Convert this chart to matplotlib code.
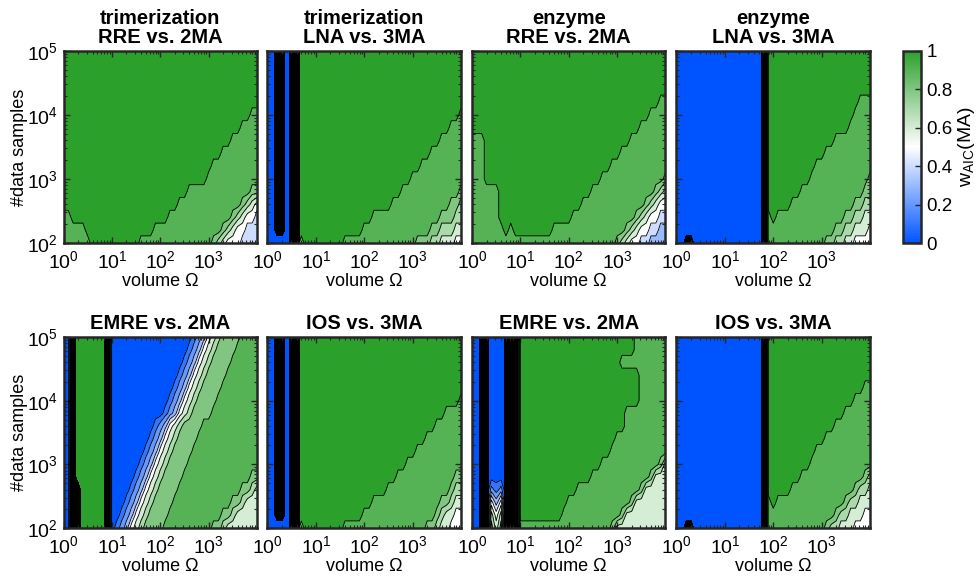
import numpy as np
import matplotlib
matplotlib.use('Agg')
import matplotlib.pyplot as plt
import matplotlib.cm as cm
from matplotlib.colors import LinearSegmentedColormap, Normalize
from matplotlib.ticker import LogLocator, NullFormatter

plt.rcParams['font.family'] = ['Liberation Sans', 'DejaVu Sans']
plt.rcParams['mathtext.fontset'] = 'custom'
plt.rcParams['mathtext.rm'] = 'Liberation Sans'
plt.rcParams['mathtext.it'] = 'Liberation Sans:italic'
plt.rcParams['mathtext.bf'] = 'Liberation Sans:bold'

# grid of the scan (log10 of volume and of number of samples)
volume_log10 = [0.0, 0.1, 0.2, 0.3, 0.4, 0.5, 0.6, 0.7, 0.8, 0.9,
                1.0, 1.1, 1.2, 1.3, 1.4, 1.5, 1.6, 1.7, 1.8, 1.9,
                2.0, 2.1, 2.2, 2.3, 2.4, 2.5, 2.6, 2.7, 2.8, 2.9,
                3.0, 3.1, 3.2, 3.3, 3.4, 3.5, 3.6, 3.7, 3.8, 3.9, 4.0]
samples_log10 = [5.0, 4.8, 4.6, 4.4, 4.2, 4.0, 3.8, 3.6,
                 3.4, 3.2, 3.0, 2.8, 2.6, 2.4, 2.2, 2.0]

# w_AIC(MA), one string per row (top row first), run-length coded
# '0'..'9' -> 0.05..0.95, 'G' -> 1, '#'/'$' -> band of packed contour lines (value 0 / 1)
trim_rre_2ma = [
    "G*41", "G*41", "G*41", "G*41", "G*41",
    "G*39 9*2",
    "G*37 9*4",
    "G*35 9*6",
    "G*33 9*8",
    "G*31 9*10",
    "G*30 9*11",
    "G*26 9*13 8*2",
    "G*24 9*13 8 7 6 5",
    "9*2 G*20 9*13 8 7 6 5*2 4",
    "9*5 G*14 9*14 8 7 6 5*2 4*3",
    "9*6 G*10 9*15 8 7 6 5*3 4*4",
]
trim_lna_3ma = [
    "0*2 #*2 0 # $ G*34", "0*2 #*2 0 # $ G*34", "0*2 #*2 0 # $ G*34",
    "0*2 #*2 0 # $ G*34", "0*2 #*2 0 # $ G*34",
    "0*2 #*2 0 # $ G*33 9",
    "0*2 #*2 0 # $ G*31 9*3",
    "0*2 #*2 0 # $ G*29 9*5",
    "0*2 #*2 0 # $ G*27 9*7",
    "0*2 #*2 0 # $ G*25 9*9",
    "0*2 #*2 0 # $ G*23 9*11",
    "0*2 #*2 0 # $ G*21 9*12 8",
    "0*2 #*2 0 # $ G*19 9*12 8*2 7",
    "0*2 #*2 0 # $ G*15 9*14 8*3 7*2",
    "0*2 #*2 0 # $ G*13 9*14 8*2 7*3 6*2",
    "0*5 # $ 9 G*8 9*15 8*3 7*2 6*3 5*2",
]
enz_rre_2ma = [
    "G*41", "G*41", "G*41", "G*41",
    "G*39 9*2",
    "G*37 9*4",
    "G*35 9*6",
    "9*3 G*30 9*8",
    "9*3 G*28 9*10",
    "9*3 G*26 9*12",
    "9*3 G*24 9*13 8",
    "9*6 G*19 9*13 8 7 6",
    "9*6 G*17 9*13 8 7 6 5*2",
    "9*6 G*15 9*13 8 7 6 5*2 4*2",
    "9*7 G 9 G*8 9*15 8 7 6 5*2 4*2 3*2",
    "9*30 8 7 6 5*2 4*2 3*4",
]
enz_lna_3ma = [
    "0*18 # G*22", "0*18 # G*22", "0*18 # G*22", "0*18 # G*22",
    "0*18 # G*19 9*3",
    "0*18 # G*18 9*4",
    "0*18 # G*17 9*5",
    "0*18 # G*14 9*8",
    "0*18 # G*12 9*10",
    "0*18 # G*10 9*12",
    "0*18 # G*9 9*12 8",
    "0*18 # G*7 9*13 8*2",
    "0*18 # G*5 9*13 8*2 7*2",
    "0*18 # 9 G 9*14 8*2 7*2 6*2",
    "0*18 # 9*14 8*2 7*2 6*3 5",
    "0*2 #*2 0*14 # 9*12 8*2 7*2 6*2 5*4",
]
trim_emre_2ma = [
    "0*2 $ G*6 $ 0*17 1 2 3 5 6 7 8*4 9*4",
    "0*2 $ G*6 $ 0*16 1 2 3 5 6 7 8*4 9*5",
    "0*2 $ G*6 $ 0*15 1 2 3 5 6 7 8*4 9*6",
    "0*2 $ G*6 $ 0*14 1 2 3 5 6 7 8*4 9*7",
    "0*2 $ G*6 $ 0*13 1 2 3 5 6 7 8*4 9*8",
    "0*2 $ G*6 $ 0*12 1 2 3 5 6 7 8*4 9*9",
    "0*2 $ G*6 $ 0*11 1 2 3 5 6 7 8*4 9*10",
    "0*2 $ G*6 $ 0*9 1 2 3 5 6 7 8*4 9*12",
    "0*2 $ G*6 $ 0*8 1 2 3 5 6 7 8*4 9*13",
    "0*2 $ G*6 $ 0*7 1 2 3 5 6 7 8*4 9*14",
    "0*2 $ G*6 $ 0*6 1 2 3 5 6 7 8*4 9*15",
    "0*2 $ G*6 $ 0*5 1 2 3 5 6 7 8*4 9*14 8*2",
    "0*2 $*2 G*5 $ 0*4 1 2 3 5 6 7 8*4 9*13 8*2 7 6",
    "0*2 $*2 G*5 $ 0*3 1 2 3 5 6 7 8*4 9*12 8*2 7 6*3",
    "0*2 $*2 G*5 $ 0*2 1 2 3 5 6 7 8*4 9*11 8*2 7 6*5",
    "0*2 $*2 G*5 $ 0 1 2 3 5 6 7 8*4 9*10 8*2 7 6*7",
]
trim_ios_3ma = [
    "0*2 #*2 0 # $ G*34", "0*2 #*2 0 # $ G*34", "0*2 #*2 0 # $ G*34",
    "0*2 #*2 0 # $ G*34", "0*2 #*2 0 # $ G*34",
    "0*2 #*2 0 # $ G*33 9",
    "0*2 #*2 0 # $ G*30 9*4",
    "0*2 #*2 0 # $ G*28 9*6",
    "0*2 #*2 0 # $ G*26 9*8",
    "0*2 #*2 0 # $ G*24 9*10",
    "0*2 #*2 0 # $ G*22 9*12",
    "0*2 #*2 0 # $ G*20 9*12 8*2",
    "0*2 #*2 0 # $ G*18 9*13 8 7*2",
    "0*2 #*2 0 # $ G*15 9*14 8*2 7 6*2",
    "0*2 #*2 0 # $ G*13 9*15 8 7 6*2 5*2",
    "0*5 # $ 9 G*8 9*17 8*2 7 6*2 5*3",
]
enz_emre_2ma = [
    "0*2 #*2 0*3 #*3 G*24 9*7",
    "0*2 #*2 0*3 #*3 G*24 9*7",
    "0*2 #*2 0*3 #*3 G*21 9*10",
    "0*2 #*2 0*3 #*3 G*25 9*6",
    "0*2 #*2 0*3 #*3 G*25 9*6",
    "0*2 #*2 0*3 #*3 G*25 9*6",
    "0*2 #*2 0*3 #*3 G*22 9*9",
    "0*2 #*2 0*3 #*3 G*22 9*9",
    "0*2 #*2 0*3 #*3 G*20 9*11",
    "0*2 #*2 0*3 #*3 G*19 9*12",
    "0*2 #*2 0*3 #*3 G*17 9*12 8 6",
    "0*2 #*2 0*3 #*3 G*15 9*12 8 6*3",
    "0*2 #*2 2 1 2 #*3 G*12 9*13 8 6*5",
    "0*2 #*2 5 3 5 #*3 G*10 9*13 8 6*7",
    "0*2 #*2 7 5 7 #*3 G*9 9*12 8 6*9",
    "0*2 #*2 8 6 8 #*3 9*19 8 6*11",
]
enz_ios_3ma = [
    "0*18 # G*22", "0*18 # G*22", "0*18 # G*22", "0*18 # G*22",
    "0*18 # G*20 9*2",
    "0*18 # G*18 9*4",
    "0*18 # G*16 9*6",
    "0*18 # G*14 9*8",
    "0*18 # G*12 9*10",
    "0*18 # G*10 9*12",
    "0*18 # G*9 9*13",
    "0*18 # G*7 9*13 8 7",
    "0*18 # G*5 9*13 8 7*2 6",
    "0*18 # 9 G 9*14 8 7*2 6*3",
    "0*18 # 9*14 8 7*2 6*3 5*2",
    "0*2 #*2 0*14 # 9*12 8 7*2 6*3 5*4",
]

titles = ['trimerization\nRRE vs. 2MA', 'trimerization\nLNA vs. 3MA',
          'enzyme\nRRE vs. 2MA', 'enzyme\nLNA vs. 3MA',
          'EMRE vs. 2MA', 'IOS vs. 3MA', 'EMRE vs. 2MA', 'IOS vs. 3MA']
panels = [trim_rre_2ma, trim_lna_3ma, enz_rre_2ma, enz_lna_3ma,
          trim_emre_2ma, trim_ios_3ma, enz_emre_2ma, enz_ios_3ma]

code = {str(i): 0.05 + 0.1 * i for i in range(10)}
code.update({'G': 1.0, '#': 0.0, '$': 1.0})


def decode(rows):
    vals, band = [], []
    for r in rows:
        line = []
        for tok in r.split():
            c, _, n = tok.partition('*')
            line += [c] * int(n or 1)
        assert len(line) == len(volume_log10), r
        vals.append([code[c] for c in line])
        band.append([1.0 if c in '#$' else 0.0 for c in line])
    return np.array(vals), np.array(band)


blue, green = (0.0, 0.33, 1.0), (0.17, 0.63, 0.17)
cmap = LinearSegmentedColormap.from_list('bwg', [(0, blue), (0.5, 'white'), (1, green)])
fill_levels = [-0.01, 0.1, 0.2, 0.3, 0.4, 0.5, 0.6, 0.7, 0.8, 0.9, 0.975, 1.01]
fill_colors = [cmap(v) for v in [0, 0.1, 0.2, 0.3, 0.4, 0.5, 0.6, 0.7, 0.8, 0.9, 1.0]]
line_levels = [0.1, 0.2, 0.3, 0.4, 0.5, 0.6, 0.7, 0.8, 0.9, 0.975]

X = 10 ** np.array(volume_log10)
Y = 10 ** np.array(samples_log10)

W, H = 978, 581
fig = plt.figure(figsize=(W / 100, H / 100), dpi=100)
lefts = [63.5, 267.5, 472, 676.5]
rows_px = [(51, 243), (337, 528)]
frame = '#262626'

for k, (rows, title) in enumerate(zip(panels, titles)):
    top, bot = rows_px[k // 4]
    left = lefts[k % 4]
    ax = fig.add_axes([left / W, (H - bot) / H, 193.5 / W, (bot - top) / H])
    Z, M = decode(rows)
    ax.contourf(X, Y, Z, levels=fill_levels, colors=fill_colors)
    ax.contour(X, Y, Z, levels=line_levels, colors='k', linewidths=0.6)
    ax.contourf(X, Y, M, levels=[0.5, 1.5], colors='k')
    ax.set_xscale('log')
    ax.set_yscale('log')
    ax.set_xlim(1, 1e4)
    ax.set_ylim(1e2, 1e5)
    ax.set_xticks([1, 10, 100, 1000])
    ax.set_xticklabels(['$10^{0}$', '$10^{1}$', '$10^{2}$', '$10^{3}$'])
    ax.set_yticks([1e2, 1e3, 1e4, 1e5])
    if k % 4 == 0:
        ax.set_yticklabels(['$10^{2}$', '$10^{3}$', '$10^{4}$', '$10^{5}$'])
        ax.set_ylabel('#data samples', fontsize=13, labelpad=-1)
    else:
        ax.set_yticklabels([])
    ax.xaxis.set_minor_locator(LogLocator(base=10, subs=np.arange(2, 10), numticks=20))
    ax.yaxis.set_minor_locator(LogLocator(base=10, subs=np.arange(2, 10), numticks=20))
    ax.xaxis.set_minor_formatter(NullFormatter())
    ax.yaxis.set_minor_formatter(NullFormatter())
    ax.tick_params(which='both', direction='in', top=True, right=True,
                   color=frame, labelsize=14)
    ax.tick_params(axis='x', which='major', pad=5)
    ax.tick_params(axis='y', which='major', pad=4)
    ax.tick_params(which='major', length=4, width=1)
    ax.tick_params(which='minor', length=2, width=0.8)
    for s in ax.spines.values():
        s.set_linewidth(1.8)
        s.set_color(frame)
    ax.set_xlabel('volume \u03a9', fontsize=13, labelpad=1)
    ax.set_title(title, fontsize=14.5, fontweight='bold', pad=6, linespacing=1.0)

cax = fig.add_axes([903 / W, (H - 243) / H, 18 / W, 192 / H])
cb = fig.colorbar(cm.ScalarMappable(norm=Normalize(0, 1), cmap=cmap), cax=cax,
                  ticks=[0, 0.2, 0.4, 0.6, 0.8, 1])
cb.ax.set_yticklabels(['0', '0.2', '0.4', '0.6', '0.8', '1'])
cb.ax.tick_params(direction='in', length=4, width=1, labelsize=13.5, color=frame, pad=4)
cb.outline.set_linewidth(1.8)
cb.outline.set_edgecolor(frame)
cb.set_label(r'w$_{\mathregular{AIC}}$(MA)', fontsize=14, labelpad=2)

fig.savefig('out.png', dpi=100)
